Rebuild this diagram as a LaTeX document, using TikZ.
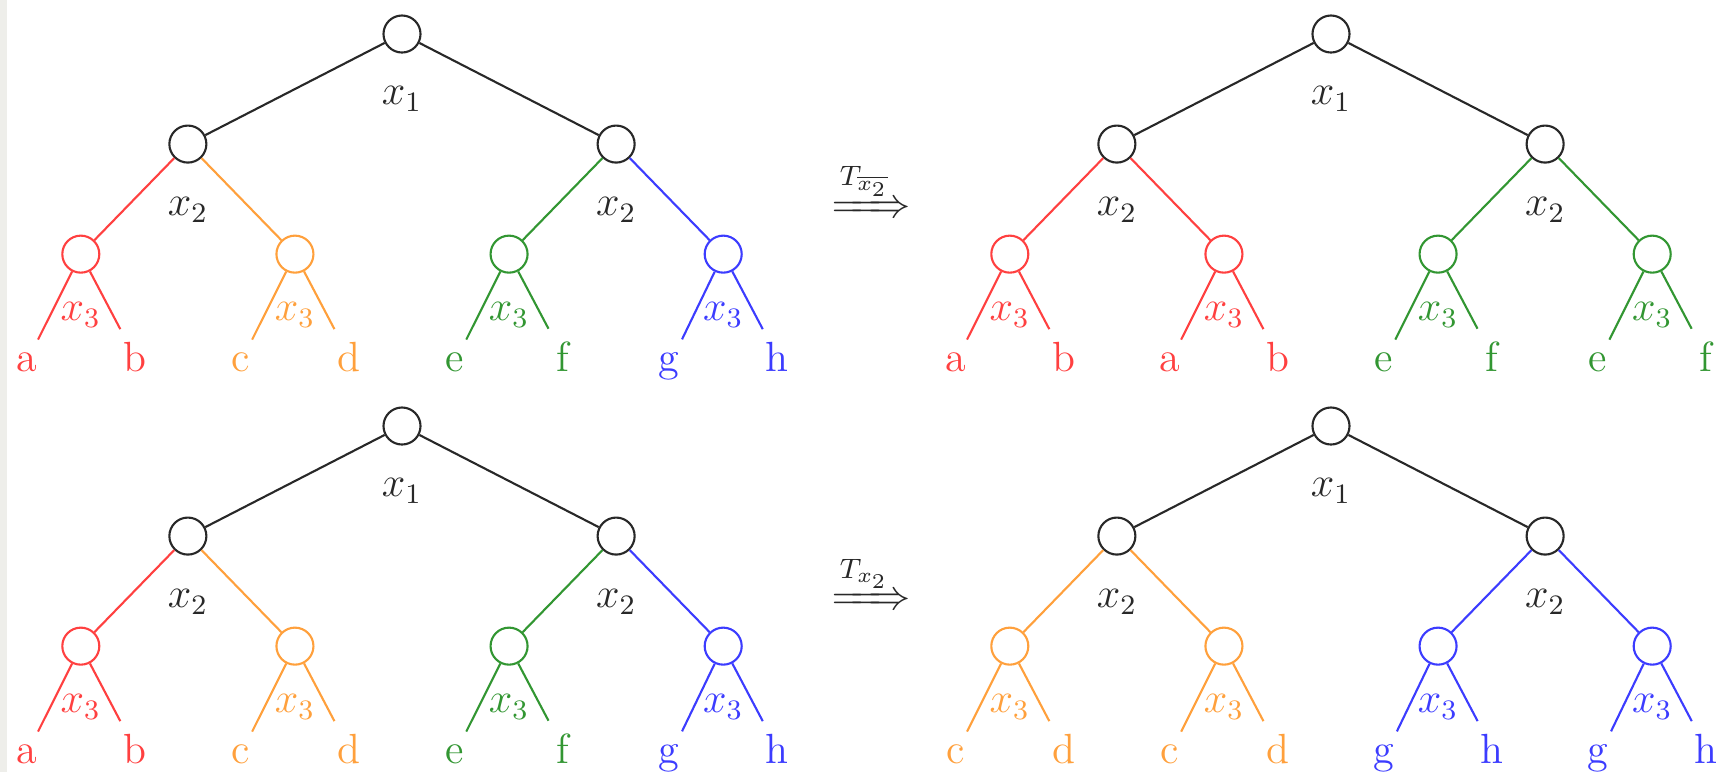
\documentclass[tikz,border=0pt]{standalone}
\usepackage{mathtools}
\definecolor{tree_red}{RGB}{255,64,64}
\definecolor{tree_orange}{RGB}{255,160,60}
\definecolor{tree_green}{RGB}{50,150,50}
\definecolor{tree_blue}{RGB}{60,60,255}
\definecolor{edge_gray}{RGB}{40,40,40}
\definecolor{strip_gray}{RGB}{238,238,234}

\begin{document}
\begin{tikzpicture}[x=0.01cm, y=-0.01cm, font=\large, semithick, edge_gray,
    vtx/.style={circle, draw, minimum size=0.37cm, inner sep=0pt},
    varone/.style={vtx, label={[inner sep=0pt, yshift=-0.32cm]below:$x_1$}},
    vartwo/.style={vtx, label={[inner sep=0pt, yshift=-0.33cm]below:$x_2$}},
    varthree/.style={vtx, label={[inner sep=0pt, yshift=-0.28cm]below:$x_3$}},
    leaf/.style={anchor=base},
    level distance=1.1cm,
    level 1/.style={sibling distance=4.28cm},
    level 2/.style={sibling distance=2.14cm},
    level 3/.style={sibling distance=1.08cm, level distance=1.17cm}]
        \useasboundingbox (0,0) rectangle (1721,772);
        \fill[strip_gray] (0,0) rectangle (7,772);
        % original function
        \node[varone] (tl) at (402,34) {}
          child {node[vartwo] (tl1) {}
            child[tree_red] {node[varthree] (tl11) {}
              child {node[leaf] (tla) {a}} child {node[leaf] (tlb) {b}}}
            child[tree_orange] {node[varthree] (tl12) {}
              child {node[leaf] (tlc) {c}} child {node[leaf] (tld) {d}}}}
          child {node[vartwo] (tl2) {}
            child[tree_green] {node[varthree] (tl21) {}
              child {node[leaf] (tle) {e}} child {node[leaf] (tlf) {f}}}
            child[tree_blue] {node[varthree] (tl22) {}
              child {node[leaf] (tlg) {g}} child {node[leaf] (tlh) {h}}}};
        \node[anchor=base] (negx) at (871,217) {$\xRightarrow{T_{\overline{x_2}}}$};
        % restricted to x2 = 0
        \node[varone] (tr) at (1331,34) {}
          child {node[vartwo] (tr1) {}
            child[tree_red] {node[varthree] (tr11) {}
              child {node[leaf] (tra) {a}} child {node[leaf] (trb) {b}}}
            child[tree_red] {node[varthree] (tr12) {}
              child {node[leaf] (tra2) {a}} child {node[leaf] (trb2) {b}}}}
          child {node[vartwo] (tr2) {}
            child[tree_green] {node[varthree] (tr21) {}
              child {node[leaf] (tre) {e}} child {node[leaf] (trf) {f}}}
            child[tree_green] {node[varthree] (tr22) {}
              child {node[leaf] (tre2) {e}} child {node[leaf] (trf2) {f}}}};
        % original function again
        \node[varone] (bl) at (402,426) {}
          child {node[vartwo] (bl1) {}
            child[tree_red] {node[varthree] (bl11) {}
              child {node[leaf] (bla) {a}} child {node[leaf] (blb) {b}}}
            child[tree_orange] {node[varthree] (bl12) {}
              child {node[leaf] (blc) {c}} child {node[leaf] (bld) {d}}}}
          child {node[vartwo] (bl2) {}
            child[tree_green] {node[varthree] (bl21) {}
              child {node[leaf] (ble) {e}} child {node[leaf] (blf) {f}}}
            child[tree_blue] {node[varthree] (bl22) {}
              child {node[leaf] (blg) {g}} child {node[leaf] (blh) {h}}}};
        \node[anchor=base] (posx) at (871,609) {$\xRightarrow{T_{x_2}}$};
        % restricted to x2 = 1
        \node[varone] (br) at (1331,426) {}
          child {node[vartwo] (br1) {}
            child[tree_orange] {node[varthree] (br11) {}
              child {node[leaf] (brc) {c}} child {node[leaf] (brd) {d}}}
            child[tree_orange] {node[varthree] (br12) {}
              child {node[leaf] (brc2) {c}} child {node[leaf] (brd2) {d}}}}
          child {node[vartwo] (br2) {}
            child[tree_blue] {node[varthree] (br21) {}
              child {node[leaf] (brg) {g}} child {node[leaf] (brh) {h}}}
            child[tree_blue] {node[varthree] (br22) {}
              child {node[leaf] (brg2) {g}} child {node[leaf] (brh2) {h}}}};
\end{tikzpicture}
\end{document}
